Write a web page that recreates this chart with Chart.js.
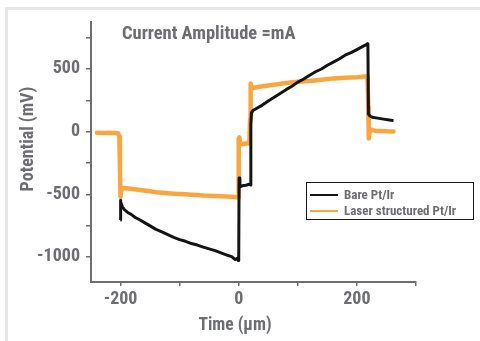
<!DOCTYPE html>
<html>
<head>
<meta charset="utf-8">
<script src="https://cdn.jsdelivr.net/npm/chart.js@4"></script>
<style>
    html, body { margin: 0; padding: 0; background: #fff; }
    #wrap { position: relative; width: 480px; height: 341px; overflow: hidden; }
    #frame { position: absolute; left: 5px; top: 7px; right: 0; bottom: 0; border-top: 3px solid #e6e6e6; border-left: 3px solid #e6e6e6; }
    canvas { position: absolute; left: 0; top: 0; }
</style>
</head>
<body>
<div id="wrap">
    <div id="frame"></div>
    <canvas id="potentialChart" width="480" height="341"></canvas>
</div>
<script>
// Data
const chartTitle = 'Current Amplitude =mA';
const xAxisTitle = 'Time (\u03bcm)';
const yAxisTitle = 'Potential (mV)';
const seriesNames = ['Bare Pt/Ir', 'Laser structured Pt/Ir'];

const bareTime = [-200.5, -200.2, -199.5, -197, -193, -188, -182, -175, -167, -158, -150, -140, -130, -120, -110, -100,
    -90, -80, -70, -60, -50, -40, -30, -20, -12, -6, -3, -1, 0, 0.6, 2, 6, 12, 18, 19.5, 20.5, 21.5, 24, 30, 40, 50,
    60, 70, 80, 90, 100, 110, 120, 130, 140, 150, 160, 170, 180, 190, 200, 210, 216, 218, 218.6, 219.5, 222, 226,
    235, 245, 255, 262];
const barePotential = [-705, -548, -560, -600, -625, -645, -660, -685, -705, -730, -752, -780, -800, -822, -843, -862,
    -875, -893, -905, -922, -936, -950, -968, -985, -998, -1020, -1012, -1028, -1015, -370, -440, -432, -428, -420, -425, 60, 150, 168, 185, 212, 245,
    275, 305, 335, 362, 395, 420, 450, 478, 500, 530, 555, 580, 610, 630, 655, 680, 695, 702, 690, 140, 125, 115,
    108, 100, 93, 88];

const laserTime = [-240, -230, -220, -210, -204, -202, -201, -200, -199, -196, -190, -180, -170, -160, -150, -140,
    -130, -120, -110, -100, -90, -80, -70, -60, -50, -40, -30, -20, -10, -4, -1, -0.3, 0.3, 1.2, 2.5, 5, 12, 18,
    19.2, 19.8, 20.5, 22, 26, 35, 50, 65, 80, 100, 120, 140, 160, 180, 200, 212, 218, 219.3, 220, 221.5, 224, 230,
    240, 250, 262];
const laserPotential = [-8, -10, -9, -10, -12, -40, -300, -520, -470, -450, -452, -458, -463, -470, -476, -483,
    -488, -492, -495, -497, -500, -503, -506, -510, -512, -513, -515, -518, -520, -524, -525, -500, -60, -45, -90, -100, -95, -95,
    100, 330, 385, 345, 350, 358, 368, 378, 388, 398, 405, 415, 425, 430, 435, 440, 440, 200, -55, -5, 15, 8,
    5, 3, 2];

const xTickValues = [-200, -100, 0, 100, 200, 300];
const xTickLabels = ['-200', '', '0', '', '200', ''];
const yTickValues = [-1000, -750, -500, -250, 0, 250, 500, 750];
const yTickLabels = ['-1000', '', '-500', '', '0', '', '500', ''];

const FONT = "'Roboto Condensed', 'DejaVu Sans Condensed', sans-serif";
const GREY = '#6d6e71';

const toPoints = (xs, ys) => xs.map((x, i) => ({ x, y: ys[i] }));

// Title, axis titles and boxed legend drawn on the canvas
const annotations = {
    id: 'annotations',
    afterDraw(chart) {
        const ctx = chart.ctx;
        ctx.save();
        ctx.fillStyle = GREY;
        ctx.textBaseline = 'middle';

        ctx.font = `bold 18.5px ${FONT}`;
        ctx.textAlign = 'left';
        ctx.fillText(chartTitle, 122, 34);

        ctx.font = `bold 17.5px ${FONT}`;
        ctx.textAlign = 'center';
        ctx.fillText(xAxisTitle, 235, 326);

        ctx.font = `bold 18px ${FONT}`;
        ctx.translate(28, 139);
        ctx.rotate(-Math.PI / 2);
        ctx.fillText(yAxisTitle, 0, 0);
        ctx.restore();

        // legend
        ctx.save();
        ctx.strokeStyle = '#1a1a1a';
        ctx.lineWidth = 1;
        ctx.strokeRect(306.5, 182.5, 167, 37);
        ctx.font = `bold 13px ${FONT}`;
        ctx.textBaseline = 'middle';
        ctx.textAlign = 'left';
        chart.data.datasets.forEach((ds, i) => {
            const y = 195 + i * 16;
            ctx.strokeStyle = ds.borderColor;
            ctx.lineWidth = 2;
            ctx.beginPath();
            ctx.moveTo(310, y);
            ctx.lineTo(338, y);
            ctx.stroke();
            ctx.fillStyle = GREY;
            ctx.fillText(ds.label, 344, y + 0.5);
        });
        ctx.restore();
    }
};

const ctx = document.getElementById('potentialChart').getContext('2d');
new Chart(ctx, {
    type: 'line',
    data: {
        datasets: [{
            label: seriesNames[0],
            data: toPoints(bareTime, barePotential),
            borderColor: '#141414',
            borderWidth: 3,
            pointRadius: 0,
            tension: 0,
            borderJoinStyle: 'round'
        }, {
            label: seriesNames[1],
            data: toPoints(laserTime, laserPotential),
            borderColor: '#f9a641',
            borderWidth: 4.5,
            pointRadius: 0,
            tension: 0,
            borderJoinStyle: 'round',
            borderCapStyle: 'round'
        }]
    },
    options: {
        responsive: false,
        animation: false,
        layout: { padding: { left: 0, top: 22, right: 64, bottom: 0 } },
        plugins: {
            legend: { display: false },
            tooltip: { enabled: false }
        },
        scales: {
            x: {
                type: 'linear',
                min: -250,
                max: 300,
                afterBuildTicks: (axis) => { axis.ticks = xTickValues.map(v => ({ value: v })); },
                afterFit: (axis) => { axis.height = 59; },
                ticks: {
                    autoSkip: false,
                    maxRotation: 0,
                    padding: 3,
                    color: GREY,
                    font: { family: FONT, size: 18, weight: 'bold' },
                    callback: (value) => xTickLabels[xTickValues.indexOf(value)]
                },
                grid: { drawOnChartArea: false, tickLength: 4, color: GREY, lineWidth: 1.5 },
                border: { color: GREY, width: 2 }
            },
            y: {
                type: 'linear',
                min: -1200,
                max: 875,
                afterBuildTicks: (axis) => { axis.ticks = yTickValues.map(v => ({ value: v })); },
                afterFit: (axis) => { axis.width = 91; },
                ticks: {
                    autoSkip: false,
                    padding: 6,
                    color: GREY,
                    font: { family: FONT, size: 18, weight: 'bold' },
                    callback: (value) => yTickLabels[yTickValues.indexOf(value)]
                },
                grid: { drawOnChartArea: false, tickLength: 5, color: GREY, lineWidth: 1.5 },
                border: { color: GREY, width: 2 }
            }
        }
    },
    plugins: [annotations]
});
</script>
</body>
</html>
